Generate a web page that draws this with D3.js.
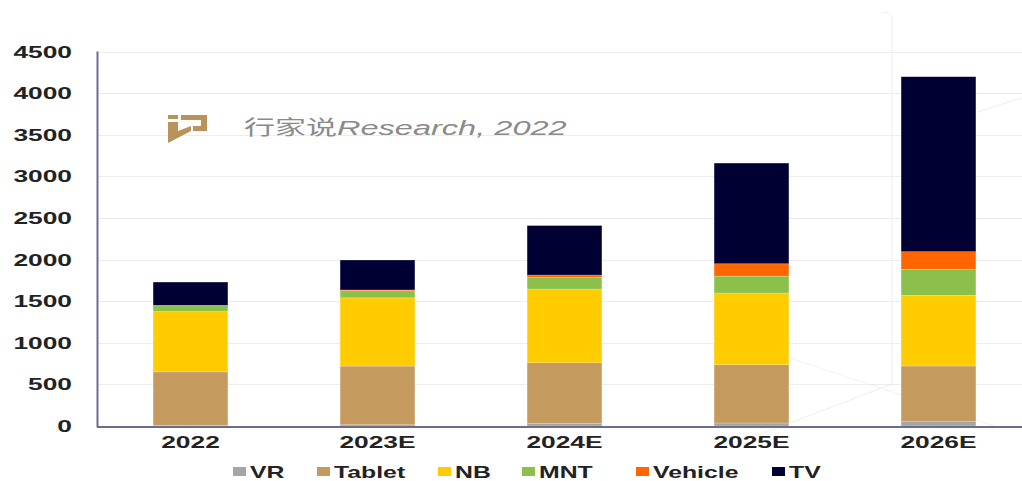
<!DOCTYPE html>
<html>
<head>
<meta charset="utf-8">
<script src="https://cdn.jsdelivr.net/npm/d3@7"></script>
<style>
  body { margin: 0; background: #fff; }
  svg { display: block; }
</style>
</head>
<body>
<div id="chart"></div>
<script>
// stacked bars, values
var years = ["2022", "2023E", "2024E", "2025E", "2026E"];
var seriesNames = ["VR", "Tablet", "NB", "MNT", "Vehicle", "TV"];
var vr      = [10, 15, 30, 36, 52];
var tablet  = [640, 705, 730, 700, 669];
var nb      = [725, 820, 886, 862, 850];
var mnt     = [70, 85, 140, 204, 312];
var vehicle = [5, 10, 28, 148, 212];
var tv      = [280, 360, 595, 1210, 2103];
var yTicks  = [0, 500, 1000, 1500, 2000, 2500, 3000, 3500, 4000, 4500];
var colors  = ["#a5a5a5", "#c49a5e", "#ffcc00", "#8bc14a", "#ff6600", "#000033"];

var width = 1022, height = 481;
var sx = 1.55; // the reference text is stretched sideways

var svg = d3.select("#chart").append("svg")
  .attr("width", width)
  .attr("height", height);

var x = d3.scaleBand()
  .domain(years)
  .range([97, 1032])
  .paddingInner(0.6)
  .paddingOuter(0.3);

var y = d3.scaleLinear()
  .domain([0, 4500])
  .range([426, 51.6]);

var rows = years.map(function(yr, i) {
  return { year: yr, VR: vr[i], Tablet: tablet[i], NB: nb[i], MNT: mnt[i], Vehicle: vehicle[i], TV: tv[i] };
});
var stack = d3.stack().keys(seriesNames)(rows);

var color = d3.scaleOrdinal().domain(seriesNames).range(colors);

// faint watermark lines in the background
var deco = svg.append("g").attr("stroke", "#f1f1f1").attr("fill", "none").attr("stroke-width", 1.2);
deco.append("path").attr("d", "M882,12 Q892,12 892,20 L892,384 L745,440");
deco.append("path").attr("d", "M790,358 L1000,428");
deco.append("path").attr("d", "M977,112 L1022,98");

// gridlines
svg.append("g")
  .selectAll("line")
  .data(yTicks.filter(function(t) { return t > 0; }))
  .enter().append("line")
  .attr("x1", 97).attr("x2", width)
  .attr("y1", function(d) { return Math.round(y(d)) + 0.5; })
  .attr("y2", function(d) { return Math.round(y(d)) + 0.5; })
  .attr("stroke", "#ededed")
  .attr("stroke-width", 1);

// watermark
var wm = svg.append("g");
var logo = wm.append("g").attr("fill", "#b8935a");
logo.append("rect").attr("x", 168).attr("y", 115).attr("width", 10).attr("height", 4);
logo.append("path").attr("d", "M168,122 L178,122 L178,131 L191,126 L191,131 L168,143 Z");
logo.append("path").attr("d", "M181,115 L207,115 L207,131 L193,131 L193,126 L201,126 L201,120 L181,120 Z");
wm.append("text")
  .attr("transform", "translate(244,135) scale(" + sx + ",1)")
  .attr("font-family", "'Noto Sans CJK SC', 'Liberation Sans', sans-serif")
  .attr("font-size", 20)
  .attr("fill", "#8a8a8a")
  .text("行家说")
  .append("tspan")
  .attr("font-family", "'Liberation Sans', Arial, sans-serif")
  .attr("font-style", "italic")
  .attr("font-size", 21)
  .text("Research, 2022");

// bars
svg.append("g")
  .selectAll("g")
  .data(stack)
  .enter().append("g")
  .attr("fill", function(d) { return color(d.key); })
  .selectAll("rect")
  .data(function(d) { return d; })
  .enter().append("rect")
  .attr("x", function(d) { return x(d.data.year); })
  .attr("y", function(d) { return y(d[1]); })
  .attr("width", x.bandwidth())
  .attr("height", function(d) { return y(d[0]) - y(d[1]); })
  .attr("stroke", "#ffffff")
  .attr("stroke-opacity", 0.35)
  .attr("stroke-width", 0.6);

// axes lines
svg.append("line")
  .attr("x1", 97.5).attr("x2", 97.5)
  .attr("y1", y(4500)).attr("y2", 427)
  .attr("stroke", "#6b6d8c").attr("stroke-width", 2);
svg.append("line")
  .attr("x1", 97).attr("x2", width)
  .attr("y1", 427).attr("y2", 427)
  .attr("stroke", "#6b6d8c").attr("stroke-width", 2);

// y tick labels
svg.append("g")
  .selectAll("text")
  .data(yTicks)
  .enter().append("text")
  .attr("transform", function(d) { return "translate(72," + (y(d) + 6) + ") scale(" + sx + ",1)"; })
  .attr("text-anchor", "end")
  .attr("font-family", "'Liberation Sans', Arial, sans-serif")
  .attr("font-weight", "bold")
  .attr("font-size", 17)
  .attr("fill", "#222")
  .text(function(d) { return d; });

// x labels
svg.append("g")
  .selectAll("text")
  .data(years)
  .enter().append("text")
  .attr("transform", function(d) { return "translate(" + (x(d) + x.bandwidth() / 2) + ",448) scale(" + sx + ",1)"; })
  .attr("text-anchor", "middle")
  .attr("font-family", "'Liberation Sans', Arial, sans-serif")
  .attr("font-weight", "bold")
  .attr("font-size", 17)
  .attr("fill", "#222")
  .text(function(d) { return d; });

// legend
var legendX = [233, 317, 438, 522, 636, 772];
var legend = svg.append("g")
  .selectAll("g")
  .data(seriesNames)
  .enter().append("g")
  .attr("transform", function(d, i) { return "translate(" + legendX[i] + ",466)"; });
legend.append("rect")
  .attr("width", 13).attr("height", 9)
  .attr("y", 1)
  .attr("fill", function(d) { return color(d); });
legend.append("text")
  .attr("transform", "translate(17,12) scale(" + sx + ",1)")
  .attr("font-family", "'Liberation Sans', Arial, sans-serif")
  .attr("font-weight", "bold")
  .attr("font-size", 16)
  .attr("fill", "#222")
  .text(function(d) { return d; });
</script>
</body>
</html>
